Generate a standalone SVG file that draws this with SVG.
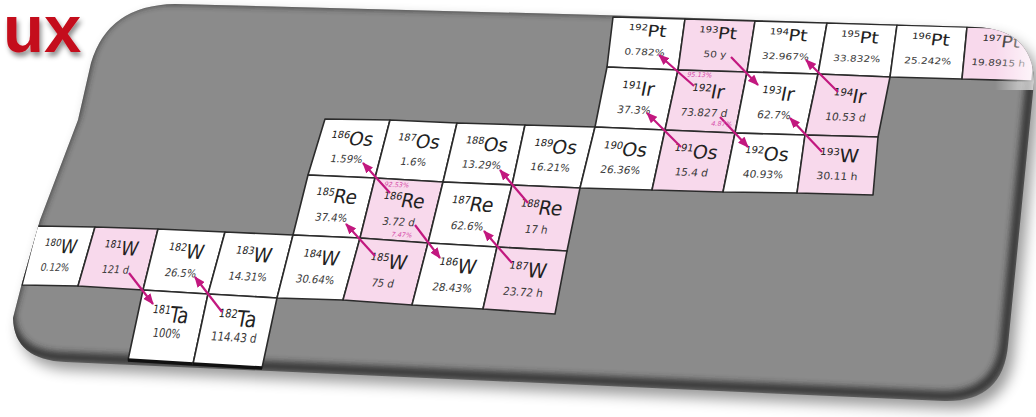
<svg xmlns="http://www.w3.org/2000/svg" width="1036" height="417" viewBox="0 0 1036 417">
<defs>
<style>
.c{stroke:#2b2b2b;stroke-width:1.6;stroke-linejoin:round}
.w{fill:#ffffff}
.p{fill:#f8d9ec}
text{font-family:"DejaVu Sans","Liberation Sans",sans-serif;text-anchor:middle}
.s{font-size:19px;fill:#222222}
.m{font-size:10px}
.v{font-size:10.5px;fill:#3a3a3a}
.a{stroke:#c2187f;stroke-width:2.2;fill:none;marker-end:url(#ah)}
.b{font-size:6.5px;fill:#d64aa8}
.ttl{font-family:"Liberation Sans",Arial,sans-serif;font-weight:bold;font-size:67px;fill:#c4101c;text-anchor:start}
</style>
<marker id="ah" markerUnits="userSpaceOnUse" markerWidth="11" markerHeight="9" refX="10" refY="4.5" orient="auto"><path d="M0,0 L11,4.5 L0,9 Z" fill="#c2187f"/></marker>
<path id="panelShape" d="M175,4 L600,15 L975,27 Q1033,29 1034,82 L1008,345 Q1003,402 945,401 L66,362 Q14,360 13,318 L22,283 L40,220 L78,120 L91,63 Q108,5 175,4 Z"/>
<clipPath id="pc"><use href="#panelShape"/></clipPath>
<linearGradient id="glare" x1="0" y1="0" x2="1" y2="0"><stop offset="0" stop-color="#fff" stop-opacity="0"/><stop offset="1" stop-color="#fff" stop-opacity="0.8"/></linearGradient>
<filter id="sh" x="-10%" y="-10%" width="120%" height="130%"><feGaussianBlur stdDeviation="7"/></filter>
<filter id="bl" x="-5%" y="-5%" width="110%" height="110%"><feGaussianBlur stdDeviation="3"/></filter>
<filter id="ts" x="-20%" y="-20%" width="150%" height="160%"><feDropShadow dx="2" dy="4" stdDeviation="2.5" flood-color="#000" flood-opacity="0.45"/></filter>
</defs>

<g id="panel">
<use href="#panelShape" fill="#000" opacity="0.4" transform="translate(6,8)" filter="url(#sh)"/>
<use href="#panelShape" fill="#8b8b8b"/>
<g clip-path="url(#pc)"><use href="#panelShape" fill="none" stroke="#2a2a2a" stroke-width="10" opacity="0.85" transform="translate(-3,-5)" filter="url(#bl)"/></g>
</g>

<g id="cells" clip-path="url(#pc)">
<g id="n192Pt"><polygon class="c w" points="613,17 685,19 678,70 607,67"/><g transform="matrix(1.01,0.03,-0.12,0.85,645.75,43.25)"><text class="s" y="-8"><tspan class="m" dy="-7">192</tspan><tspan dy="7">Pt</tspan></text><text class="v" y="14">0.782%</text></g></g>
<g id="n193Pt"><polygon class="c p" points="685,19 755,21 747,72 678,70"/><g transform="matrix(1.01,0.03,-0.12,0.85,716.25,45.5)"><text class="s" y="-8"><tspan class="m" dy="-7">193</tspan><tspan dy="7">Pt</tspan></text><text class="v" y="14">50 y</text></g></g>
<g id="n194Pt"><polygon class="c w" points="755,21 827,23 818,74 747,72"/><g transform="matrix(1.01,0.03,-0.12,0.85,786.75,47.5)"><text class="s" y="-8"><tspan class="m" dy="-7">194</tspan><tspan dy="7">Pt</tspan></text><text class="v" y="14">32.967%</text></g></g>
<g id="n195Pt"><polygon class="c w" points="827,23 897,25 890,77 818,74"/><g transform="matrix(1.01,0.03,-0.12,0.85,858,49.75)"><text class="s" y="-8"><tspan class="m" dy="-7">195</tspan><tspan dy="7">Pt</tspan></text><text class="v" y="14">33.832%</text></g></g>
<g id="n196Pt"><polygon class="c w" points="897,25 967,27 962,79 890,77"/><g transform="matrix(1.01,0.03,-0.12,0.85,929,52)"><text class="s" y="-8"><tspan class="m" dy="-7">196</tspan><tspan dy="7">Pt</tspan></text><text class="v" y="14">25.242%</text></g></g>
<g id="n197Pt"><polygon class="c p" points="967,27 1037,29 1032,81 962,79"/><g transform="matrix(1.01,0.03,-0.12,0.85,999.5,54)"><text class="s" y="-8"><tspan class="m" dy="-7">197</tspan><tspan dy="7">Pt</tspan></text><text class="v" y="14">19.8915 h</text></g><rect x="995" y="20" width="42" height="70" fill="url(#glare)"/></g>

<g id="n191Ir"><polygon class="c w" points="607,67 678,70 665,130 595,127"/><g transform="matrix(1.01,0.035,-0.2,1,636.25,98.5)"><text class="s" y="-3"><tspan class="m" dy="-7">191</tspan><tspan dy="7">Ir</tspan></text><text class="v" y="15">37.3%</text></g></g>
<g id="n192Ir"><polygon class="c p" points="678,70 747,72 735,133 665,130"/><g transform="matrix(1.01,0.035,-0.2,1,706.25,101.25)"><text class="s" y="-3"><tspan class="m" dy="-7">192</tspan><tspan dy="7">Ir</tspan></text><text class="v" y="15">73.827 d</text></g></g>
<g id="n193Ir"><polygon class="c w" points="747,72 818,74 805,135 735,133"/><g transform="matrix(1.01,0.035,-0.2,1,776.25,103.5)"><text class="s" y="-3"><tspan class="m" dy="-7">193</tspan><tspan dy="7">Ir</tspan></text><text class="v" y="15">62.7%</text></g></g>
<g id="n194Ir"><polygon class="c p" points="818,74 890,77 878,137 805,135"/><g transform="matrix(1.01,0.035,-0.2,1,847.75,105.75)"><text class="s" y="-3"><tspan class="m" dy="-7">194</tspan><tspan dy="7">Ir</tspan></text><text class="v" y="15">10.53 d</text></g></g>

<g id="n186Os"><polygon class="c w" points="325,119 390,120 375,178 308,175"/><g transform="matrix(0.97,0.03,-0.26,0.97,349.5,148)"><text class="s" y="-3"><tspan class="m" dy="-7">186</tspan><tspan dy="7">Os</tspan></text><text class="v" y="15">1.59%</text></g></g>
<g id="n187Os"><polygon class="c w" points="390,120 457,123 443,182 375,178"/><g transform="matrix(0.97,0.035,-0.25,0.97,416.25,150.75)"><text class="s" y="-3"><tspan class="m" dy="-7">187</tspan><tspan dy="7">Os</tspan></text><text class="v" y="15">1.6%</text></g></g>
<g id="n188Os"><polygon class="c w" points="457,123 525,125 512,185 443,182"/><g transform="matrix(0.98,0.035,-0.24,0.97,484.25,153.75)"><text class="s" y="-3"><tspan class="m" dy="-7">188</tspan><tspan dy="7">Os</tspan></text><text class="v" y="15">13.29%</text></g></g>
<g id="n189Os"><polygon class="c w" points="525,125 595,127 580,188 512,185"/><g transform="matrix(0.99,0.035,-0.24,0.97,553,156.25)"><text class="s" y="-3"><tspan class="m" dy="-7">189</tspan><tspan dy="7">Os</tspan></text><text class="v" y="15">16.21%</text></g></g>
<g id="n190Os"><polygon class="c w" points="595,127 665,130 652,190 580,188"/><g transform="matrix(1,0.035,-0.23,0.98,623,158.75)"><text class="s" y="-3"><tspan class="m" dy="-7">190</tspan><tspan dy="7">Os</tspan></text><text class="v" y="15">26.36%</text></g></g>
<g id="n191Os"><polygon class="c p" points="665,130 735,133 723,192 652,190"/><g transform="matrix(1,0.035,-0.21,0.98,693.75,161.25)"><text class="s" y="-3"><tspan class="m" dy="-7">191</tspan><tspan dy="7">Os</tspan></text><text class="v" y="15">15.4 d</text></g></g>
<g id="n192Os"><polygon class="c w" points="735,133 805,135 797,193 723,192"/><g transform="matrix(1.01,0.03,-0.17,0.97,765,163.25)"><text class="s" y="-3"><tspan class="m" dy="-7">192</tspan><tspan dy="7">Os</tspan></text><text class="v" y="15">40.93%</text></g></g>
<g id="n193W"><polygon class="c p" points="805,135 878,137 873,195 797,193"/><g transform="matrix(1.03,0.03,-0.11,0.97,838.25,165)"><text class="s" y="-3"><tspan class="m" dy="-7">193</tspan><tspan dy="7">W</tspan></text><text class="v" y="15">30.11 h</text></g></g>

<g id="n185Re"><polygon class="c w" points="308,175 375,178 360,238 293,235"/><g transform="matrix(0.96,0.045,-0.25,1.02,334,206)"><text class="s" y="-3"><tspan class="m" dy="-7">185</tspan><tspan dy="7">Re</tspan></text><text class="v" y="15">37.4%</text></g></g>
<g id="n186Re"><polygon class="c p" points="375,178 443,182 428,243 360,238"/><g transform="matrix(0.97,0.055,-0.25,1.02,401.5,210.25)"><text class="s" y="-3"><tspan class="m" dy="-7">186</tspan><tspan dy="7">Re</tspan></text><text class="v" y="15">3.72 d</text></g></g>
<g id="n187Re"><polygon class="c w" points="443,182 512,185 497,247 428,243"/><g transform="matrix(0.98,0.045,-0.25,1.03,470,214.25)"><text class="s" y="-3"><tspan class="m" dy="-7">187</tspan><tspan dy="7">Re</tspan></text><text class="v" y="15">62.6%</text></g></g>
<g id="n188Re"><polygon class="c p" points="512,185 580,188 567,251 497,247"/><g transform="matrix(0.98,0.045,-0.24,1.04,539,217.75)"><text class="s" y="-3"><tspan class="m" dy="-7">188</tspan><tspan dy="7">Re</tspan></text><text class="v" y="15">17 h</text></g></g>

<g id="n180W"><polygon class="c w" points="37,226 95,227 78,286 22,285"/><g transform="matrix(0.86,0.02,-0.26,1,58,256)"><text class="s" y="-3"><tspan class="m" dy="-7">180</tspan><tspan dy="7">W</tspan></text><text class="v" y="15">0.12%</text></g></g>
<g id="n181W"><polygon class="c p" points="95,227 158,229 143,290 78,286"/><g transform="matrix(0.9,0.03,-0.26,1.01,118.5,258)"><text class="s" y="-3"><tspan class="m" dy="-7">181</tspan><tspan dy="7">W</tspan></text><text class="v" y="15">121 d</text></g></g>
<g id="n182W"><polygon class="c w" points="158,229 225,232 208,294 143,290"/><g transform="matrix(0.94,0.045,-0.26,1.03,183.5,261.25)"><text class="s" y="-3"><tspan class="m" dy="-7">182</tspan><tspan dy="7">W</tspan></text><text class="v" y="15">26.5%</text></g></g>
<g id="n183W"><polygon class="c w" points="225,232 293,235 277,298 208,294"/><g transform="matrix(0.96,0.045,-0.27,1.04,250.75,264.75)"><text class="s" y="-3"><tspan class="m" dy="-7">183</tspan><tspan dy="7">W</tspan></text><text class="v" y="15">14.31%</text></g></g>
<g id="n184W"><polygon class="c w" points="293,235 360,238 343,300 277,298"/><g transform="matrix(0.96,0.045,-0.27,1.03,318.25,267.75)"><text class="s" y="-3"><tspan class="m" dy="-7">184</tspan><tspan dy="7">W</tspan></text><text class="v" y="15">30.64%</text></g></g>
<g id="n185W"><polygon class="c p" points="360,238 428,243 412,305 343,300"/><g transform="matrix(0.97,0.065,-0.27,1.03,385.75,271.5)"><text class="s" y="-3"><tspan class="m" dy="-7">185</tspan><tspan dy="7">W</tspan></text><text class="v" y="15">75 d</text></g></g>
<g id="n186W"><polygon class="c w" points="428,243 497,247 483,309 412,305"/><g transform="matrix(0.99,0.055,-0.25,1.03,455,276)"><text class="s" y="-3"><tspan class="m" dy="-7">186</tspan><tspan dy="7">W</tspan></text><text class="v" y="15">28.43%</text></g></g>
<g id="n187W"><polygon class="c p" points="497,247 567,251 555,314 483,309"/><g transform="matrix(1,0.06,-0.22,1.05,525.5,280.25)"><text class="s" y="-3"><tspan class="m" dy="-7">187</tspan><tspan dy="7">W</tspan></text><text class="v" y="15">23.72 h</text></g></g>

<g id="n181Ta"><polygon class="c w" points="143,290 208,294 193,364 128,360"/><line x1="128" y1="360" x2="193" y2="364" stroke="#111" stroke-width="3.5"/><g transform="matrix(0.93,0.06,-0.23,1.17,168,327)"><text class="s" y="-4"><tspan class="m" dy="-7">181</tspan><tspan dy="7">Ta</tspan></text><text class="v" y="9">100%</text></g></g>
<g id="n182Ta"><polygon class="c w" points="208,294 277,298 262,368 193,364"/><line x1="193" y1="364" x2="262" y2="368" stroke="#111" stroke-width="3.5"/><g transform="matrix(0.98,0.06,-0.22,1.17,235,331)"><text class="s" y="-4"><tspan class="m" dy="-7">182</tspan><tspan dy="7">Ta</tspan></text><text class="v" y="9">114.43 d</text></g></g>
</g>

<g id="connectors">
<line class="a" x1="129" y1="273" x2="153" y2="304"/>
<line class="a" x1="222" y1="312" x2="195" y2="277"/>
<line class="a" x1="375" y1="256" x2="346" y2="224"/>
<line class="a" x1="415" y1="225" x2="440" y2="258"/>
<line class="a" x1="512" y1="263" x2="484" y2="231"/>
<line class="a" x1="390" y1="193" x2="363" y2="163"/>
<line class="a" x1="528" y1="203" x2="500" y2="170"/>
<line class="a" x1="681" y1="147" x2="647" y2="113"/>
<line class="a" x1="720" y1="117" x2="748" y2="147"/>
<line class="a" x1="822" y1="152" x2="790" y2="118"/>
<line class="a" x1="694" y1="86" x2="659" y2="55"/>
<line class="a" x1="731" y1="57" x2="758" y2="85"/>
<line class="a" x1="838" y1="92" x2="806" y2="60"/>
<text class="b" transform="translate(699,77) rotate(2) skewX(-12)">95.13%</text>
<text class="b" transform="translate(721,126) rotate(2) skewX(-12)">4.87%</text>
<text class="b" transform="translate(396,187) rotate(3) skewX(-14)">92.53%</text>
<text class="b" transform="translate(401,237) rotate(3) skewX(-14)">7.47%</text>
</g>

<text class="ttl" x="3" y="52" filter="url(#ts)">ux</text>
</svg>
